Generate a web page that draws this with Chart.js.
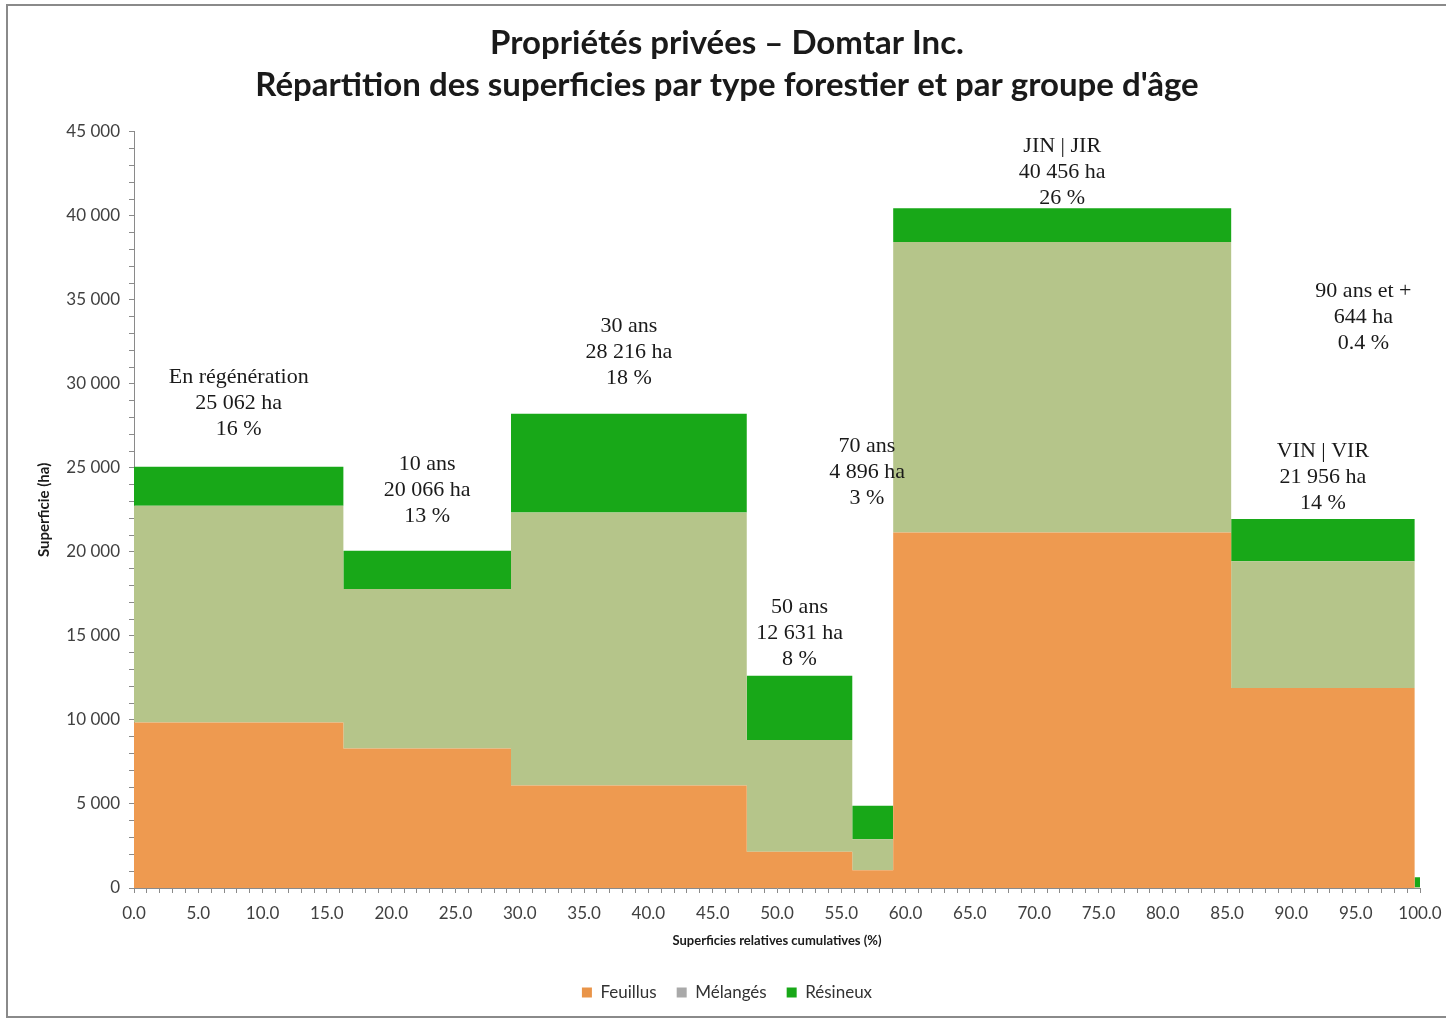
<!DOCTYPE html>
<html>
<head>
<meta charset="utf-8">
<script src="https://cdn.jsdelivr.net/npm/chart.js@4.4.1/dist/chart.umd.min.js"></script>
<style>
  body { margin: 0; background: #fff; }
  #wrap { width: 1446px; height: 1019px; }
</style>
</head>
<body>
<div id="wrap"><canvas id="chart" width="1446" height="1019"></canvas></div>
<script>
// age groups, left to right
const groups = ["En régénération", "10 ans", "30 ans", "50 ans", "70 ans", "JIN | JIR", "VIN | VIR", "90 ans et +"];
const totals = [25062, 20066, 28216, 12631, 4896, 40456, 21956, 644];
const shares = ["16 %", "13 %", "18 %", "8 %", "3 %", "26 %", "14 %", "0.4 %"];
// surfaces (ha) per forest type
const feuillus = [9850, 8300, 6100, 2150, 1050, 21150, 11900, 0];
const melanges = [12900, 9500, 16250, 6650, 1850, 17300, 7550, 50];
const resineux = [2312, 2266, 5866, 3831, 1996, 2006, 2506, 594];

const seriesNames = ["Feuillus", "Mélangés", "Résineux"];
const fillColors = ["#EE9A50", "#B5C58A", "#18A818"];
const legendColors = ["#E99448", "#A9A9A9", "#18A818"];

// cumulative relative area gives the x start of each block
const grand = totals.reduce((a, b) => a + b, 0);
const starts = [];
let acc = 0;
totals.forEach(t => { starts.push(acc / grand * 100); acc += t; });

function steps(values) {
  const pts = values.map((v, i) => ({ x: starts[i], y: v }));
  pts.push({ x: 100, y: values[values.length - 1] });
  return pts;
}

function fmt(n) {
  return String(n).replace(/\B(?=(\d{3})+(?!\d))/g, " ");
}

// label anchors (first line), in data units; x null = block centre
const labelAnchors = [
  { x: null, y: 30400 }, { x: null, y: 25240 }, { x: null, y: 33430 }, { x: null, y: 16690 },
  { x: 57.0, y: 26300 }, { x: null, y: 44120 }, { x: null, y: 26010 }, { x: 95.6, y: 35510 }
];

const blockLabels = {
  id: "blockLabels",
  afterDatasetsDraw(chart) {
    const { ctx, scales: { x, y } } = chart;
    ctx.save();
    ctx.font = "22px 'Liberation Serif', serif";
    ctx.fillStyle = "#1a1a1a";
    ctx.textAlign = "center";
    ctx.textBaseline = "middle";
    groups.forEach((g, i) => {
      const end = i < groups.length - 1 ? starts[i + 1] : 100;
      const a = labelAnchors[i];
      const cx = x.getPixelForValue(a.x === null ? (starts[i] + end) / 2 : a.x);
      const cy = y.getPixelForValue(a.y);
      [g, fmt(totals[i]) + " ha", shares[i]].forEach((line, k) => {
        ctx.fillText(line, cx, cy + k * 26);
      });
    });
    ctx.restore();
  }
};

const frame = {
  id: "frame",
  beforeDraw(chart) {
    const ctx = chart.ctx;
    ctx.save();
    ctx.fillStyle = "#fff";
    ctx.fillRect(0, 0, chart.width, chart.height);
    ctx.strokeStyle = "#8a8a8a";
    ctx.lineWidth = 2;
    ctx.strokeRect(7, 5, chart.width, chart.height - 7);
    ctx.restore();
  }
};

const chart = document.querySelector("#chart").getContext("2d");
new Chart(chart, {
  type: "line",
  data: {
    datasets: [feuillus, melanges, resineux].map((vals, i) => ({
      label: seriesNames[i],
      data: steps(vals),
      stepped: true,
      fill: i === 0 ? "origin" : "-1",
      backgroundColor: fillColors[i],
      borderColor: fillColors[i],
      borderWidth: 0,
      pointRadius: 0,
      pointHoverRadius: 0,
    })),
  },
  options: {
    responsive: false,
    animation: false,
    layout: { padding: { left: 34, right: 26, top: 4, bottom: 8 } },
    plugins: {
      tooltip: { enabled: false },
      title: {
        display: true,
        text: ["Propriétés privées – Domtar Inc.", "Répartition des superficies par type forestier et par groupe d'âge"],
        font: { family: "Lato", size: 33, weight: "bold", lineHeight: 1.27 },
        color: "#1a1a1a",
        padding: { top: 18, bottom: 26 },
      },
      legend: {
        position: "bottom",
        labels: {
          font: { family: "Lato", size: 17 },
          color: "#333",
          boxWidth: 10,
          boxHeight: 10,
          padding: 20,
          generateLabels(c) {
            const items = Chart.defaults.plugins.legend.labels.generateLabels(c);
            items.forEach((it, i) => {
              it.fillStyle = legendColors[i];
              it.strokeStyle = legendColors[i];
              it.lineWidth = 0;
            });
            return items;
          },
        },
      },
    },
    scales: {
      x: {
        type: "linear",
        min: 0,
        max: 100,
        afterFit(s) { s.height = 76; s.paddingRight = 0; s.paddingLeft = 0; },
        ticks: {
          stepSize: 1,
          autoSkip: false,
          maxRotation: 0,
          padding: 10,
          color: "#404040",
          font: { family: "Lato", size: 17 },
          callback: v => (v % 5 === 0 ? v.toFixed(1) : ""),
        },
        grid: { drawOnChartArea: false, tickLength: 5, color: "#8a8a8a" },
        border: { color: "#8a8a8a" },
        title: {
          display: true,
          text: "Superficies relatives cumulatives (%)",
          font: { family: "Lato", size: 13, weight: "bold" },
          color: "#1a1a1a",
          padding: { top: 4, bottom: 15 },
        },
      },
      y: {
        stacked: true,
        min: 0,
        max: 45000,
        afterFit(s) { s.width = 100; },
        ticks: {
          stepSize: 1000,
          autoSkip: false,
          padding: 9,
          color: "#404040",
          font: { family: "Lato", size: 17 },
          callback: v => (v % 5000 === 0 ? fmt(v) : ""),
        },
        grid: { drawOnChartArea: false, tickLength: 5, color: "#8a8a8a" },
        border: { color: "#8a8a8a" },
        title: {
          display: true,
          text: "Superficie (ha)",
          font: { family: "Lato", size: 15, weight: "bold" },
          color: "#1a1a1a",
          padding: { top: 1, bottom: 0 },
        },
      },
    },
  },
  plugins: [frame, blockLabels],
});
</script>
</body>
</html>
